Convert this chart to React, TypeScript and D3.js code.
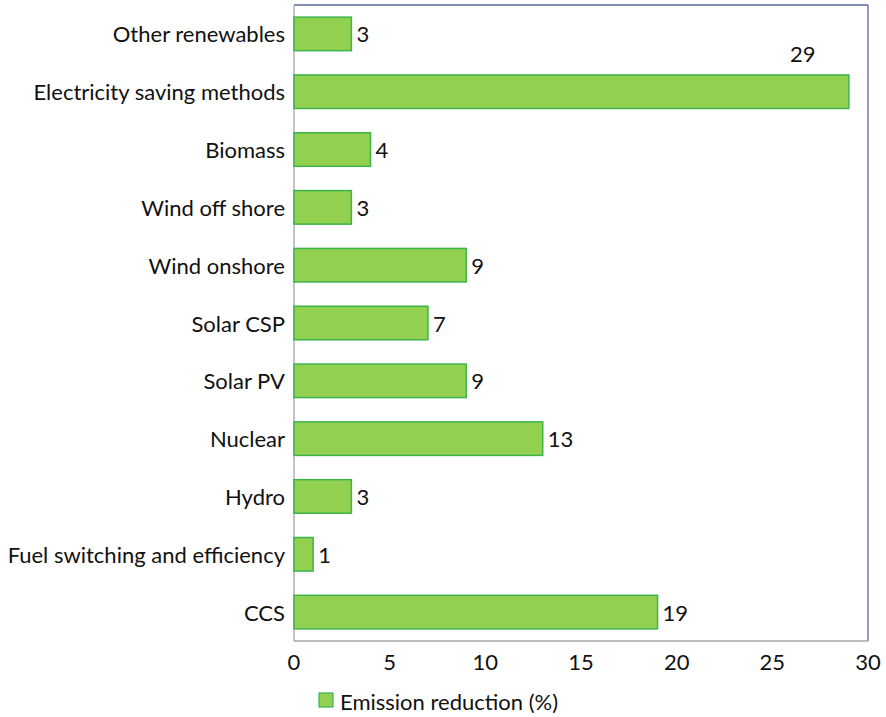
import React from "react";
import * as d3 from "d3";

const categories = [
  "Other renewables",
  "Electricity saving methods",
  "Biomass",
  "Wind off shore",
  "Wind onshore",
  "Solar CSP",
  "Solar PV",
  "Nuclear",
  "Hydro",
  "Fuel switching and efficiency",
  "CCS",
];
const values = [3, 29, 4, 3, 9, 7, 9, 13, 3, 1, 19];
const xTicks = [0, 5, 10, 15, 20, 25, 30];
const seriesName = "Emission reduction (%)";

const W = 886;
const H = 717;
const M = { left: 294, right: 868, top: 5, bottom: 641 };
const FONT = "Lato, 'Open Sans', sans-serif";
const FS = 22;

export default function App() {
  const x = d3.scaleLinear().domain([0, 30]).range([M.left, M.right]);
  const y = d3
    .scaleBand<string>()
    .domain(categories)
    .range([M.top, M.bottom])
    .paddingInner(0.42)
    .paddingOuter(0.21);

  return (
    <svg
      width={W}
      height={H}
      style={{ position: "absolute", left: 0, top: 0, background: "#fff" }}
      fontFamily={FONT}
    >
      {/* plot frame */}
      <line x1={M.left} x2={M.right} y1={M.top} y2={M.top} stroke="#5b6aa0" strokeWidth={1.3} />
      <line x1={M.right} x2={M.right} y1={M.top} y2={M.bottom} stroke="#5b6aa0" strokeWidth={1.3} />
      <line x1={M.left} x2={M.left} y1={M.top} y2={M.bottom} stroke="#a6a6a6" strokeWidth={1.3} />
      <line x1={M.left} x2={M.right} y1={M.bottom} y2={M.bottom} stroke="#a6a6a6" strokeWidth={1.3} />

      {categories.map((c, i) => {
        const v = values[i];
        const by = y(c)!;
        const bh = y.bandwidth();
        const cy = by + bh / 2;
        const outside = v >= 25;
        return (
          <g key={c}>
            <rect
              x={x(0)}
              y={by}
              width={x(v) - x(0)}
              height={bh}
              fill="#92d050"
              stroke="#3cb44b"
              strokeWidth={1.5}
            />
            <text
              x={M.left - 9}
              y={cy}
              textAnchor="end"
              dominantBaseline="central"
              fontSize={FS}
              fill="#111"
            >
              {c}
            </text>
            <text
              x={outside ? x(v) - 46 : x(v) + 5}
              y={outside ? by - 21 : cy}
              textAnchor={outside ? "middle" : "start"}
              dominantBaseline="central"
              fontSize={FS}
              fill="#111"
            >
              {v}
            </text>
          </g>
        );
      })}

      {xTicks.map((t) => (
        <text
          key={t}
          x={x(t)}
          y={661}
          textAnchor="middle"
          dominantBaseline="central"
          fontSize={FS}
          fill="#111"
        >
          {t}
        </text>
      ))}

      {/* legend */}
      <rect x={319} y={693} width={14} height={14} fill="#92d050" stroke="#3cb44b" strokeWidth={1.2} />
      <text x={340} y={701} dominantBaseline="central" fontSize={FS} fill="#111">
        {seriesName}
      </text>
    </svg>
  );
}
